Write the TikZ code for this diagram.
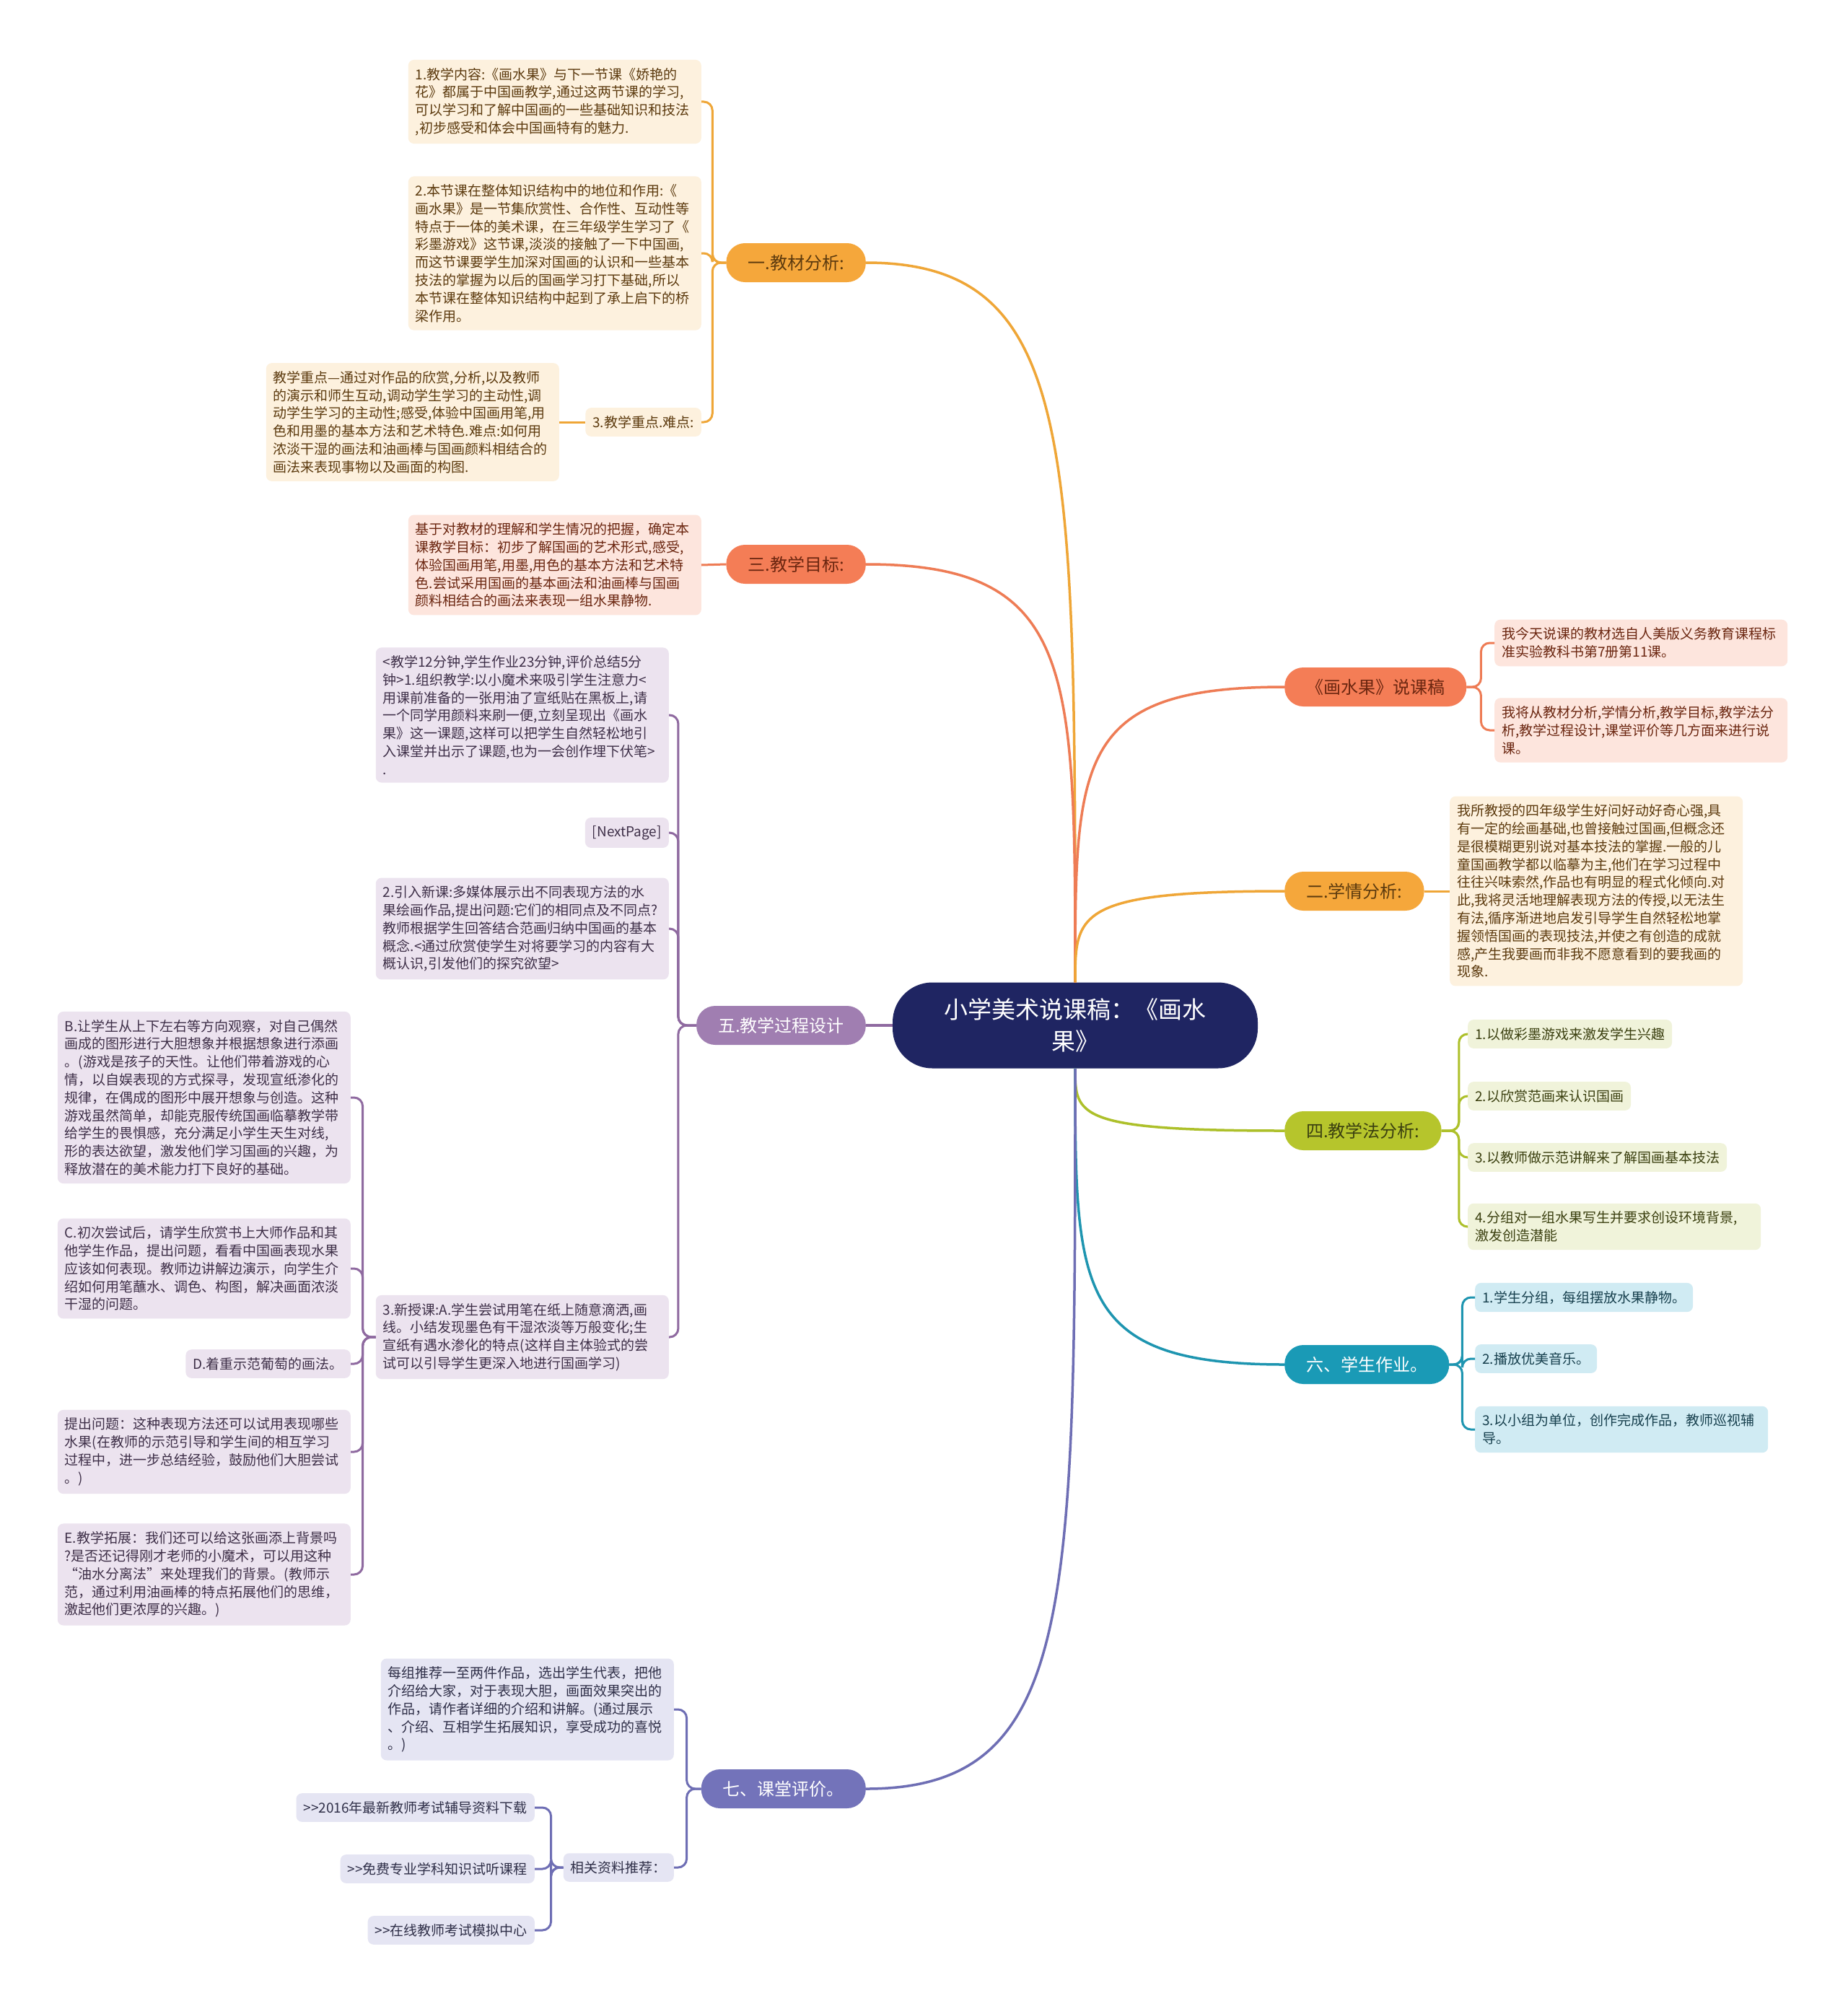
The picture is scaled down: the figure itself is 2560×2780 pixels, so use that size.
\documentclass[tikz,border=0pt]{standalone}
\usepackage{fontspec}
\setmainfont{Noto Sans CJK SC}
\usepackage{tikz}
\usetikzlibrary{calc}

\definecolor{navy}{HTML}{1F2562}
\definecolor{amber}{HTML}{F5A73B}
\definecolor{amberL}{HTML}{FDF1DE}
\definecolor{amberT}{HTML}{5C3A0E}
\definecolor{amberD}{HTML}{EFA637}
\definecolor{coral}{HTML}{F47D56}
\definecolor{coralL}{HTML}{FDE5DD}
\definecolor{coralT}{HTML}{6B2610}
\definecolor{coralD}{HTML}{EE7C55}
\definecolor{lilac}{HTML}{A07EB1}
\definecolor{lilacL}{HTML}{ECE3EF}
\definecolor{lilacT}{HTML}{3E2F48}
\definecolor{lilacD}{HTML}{8F6AA0}
\definecolor{slate}{HTML}{7373BA}
\definecolor{slateL}{HTML}{E5E5F3}
\definecolor{slateT}{HTML}{2F2F48}
\definecolor{slateD}{HTML}{6E6EB4}
\definecolor{olive}{HTML}{B6C52C}
\definecolor{oliveL}{HTML}{F0F3DA}
\definecolor{oliveT}{HTML}{3B4010}
\definecolor{oliveD}{HTML}{ADC02A}
\definecolor{teal}{HTML}{1A9AB6}
\definecolor{tealL}{HTML}{D0EBF3}
\definecolor{tealT}{HTML}{17404E}
\definecolor{tealD}{HTML}{1E95B0}

\begin{document}
\begin{tikzpicture}[x=1pt, y=-1pt,
  root/.style={rounded corners=55pt, fill=navy, text=white, font=\fontsize{33}{44}\selectfont,
    align=center, text width=420pt, minimum width=506pt, minimum height=119pt},
  branch/.style={rounded corners=26pt, minimum height=54pt, inner xsep=30pt, font=\fontsize{24}{28}\selectfont},
  leaf/.style={rounded corners=8pt, inner xsep=10pt, inner ysep=11pt, font=\fontsize{19}{24.8}\selectfont, align=left},
  wide/.style={text width=386pt},
  main/.style={line width=3.5pt},
  edge/.style={line width=3pt, rounded corners=12pt}]
\useasboundingbox (0,0) rectangle (2560,2780);
\fill[white] (0,0) rectangle (2560,2780);

\node[root] (root) at (1490,1421) {小学美术说课稿：《画水\\果》};

% branches
\node[branch, fill=amber, text=amberT, anchor=east] (b1) at (1200,364) {一.教材分析:};
\node[branch, fill=coral, text=coralT, anchor=east] (b3) at (1200,782) {三.教学目标:};
\node[branch, fill=lilac, text=white, anchor=east] (b5) at (1200,1421) {五.教学过程设计};
\node[branch, fill=slate, text=white, anchor=east] (b7) at (1200,2479) {七、课堂评价。};
\node[branch, fill=coral, text=coralT, anchor=west] (b0) at (1780,952) {《画水果》说课稿};
\node[branch, fill=amber, text=amberT, anchor=west] (b2) at (1780,1235) {二.学情分析:};
\node[branch, fill=olive, text=oliveT, anchor=west] (b4) at (1780,1567) {四.教学法分析:};
\node[branch, fill=teal, text=white, anchor=west] (b6) at (1780,1891) {六、学生作业。};

% 一
\node[leaf, wide, fill=amberL, text=amberT, anchor=east] (a1) at (972,141) {1.教学内容:《画水果》与下一节课《娇艳的\\花》都属于中国画教学,通过这两节课的学习,\\可以学习和了解中国画的一些基础知识和技法\\,初步感受和体会中国画特有的魅力.};
\node[leaf, wide, fill=amberL, text=amberT, anchor=east] (a2) at (972,351) {2.本节课在整体知识结构中的地位和作用:《\\画水果》是一节集欣赏性、合作性、互动性等\\特点于一体的美术课，在三年级学生学习了《\\彩墨游戏》这节课,淡淡的接触了一下中国画,\\而这节课要学生加深对国画的认识和一些基本\\技法的掌握为以后的国画学习打下基础,所以\\本节课在整体知识结构中起到了承上启下的桥\\梁作用。};
\node[leaf, fill=amberL, text=amberT, anchor=east] (a3) at (972,585) {3.教学重点.难点:};
\node[leaf, wide, fill=amberL, text=amberT, anchor=east] (a3a) at (775,585) {教学重点—通过对作品的欣赏,分析,以及教师\\的演示和师生互动,调动学生学习的主动性,调\\动学生学习的主动性;感受,体验中国画用笔,用\\色和用墨的基本方法和艺术特色.难点:如何用\\浓淡干湿的画法和油画棒与国画颜料相结合的\\画法来表现事物以及画面的构图.};

% 三
\node[leaf, wide, fill=coralL, text=coralT, anchor=east] (c1) at (972,783) {基于对教材的理解和学生情况的把握，确定本\\课教学目标：初步了解国画的艺术形式,感受,\\体验国画用笔,用墨,用色的基本方法和艺术特\\色.尝试采用国画的基本画法和油画棒与国画\\颜料相结合的画法来表现一组水果静物.};

% 五
\node[leaf, wide, fill=lilacL, text=lilacT, anchor=east] (p1) at (927,991) {<教学12分钟,学生作业23分钟,评价总结5分\\钟>1.组织教学:以小魔术来吸引学生注意力<\\用课前准备的一张用油了宣纸贴在黑板上,请\\一个同学用颜料来刷一便,立刻呈现出《画水\\果》这一课题,这样可以把学生自然轻松地引\\入课堂并出示了课题,也为一会创作埋下伏笔>\\.};
\node[leaf, fill=lilacL, text=lilacT, anchor=east] (p2) at (927,1154) {[NextPage]};
\node[leaf, wide, fill=lilacL, text=lilacT, anchor=east] (p3) at (927,1287) {2.引入新课:多媒体展示出不同表现方法的水\\果绘画作品,提出问题:它们的相同点及不同点?\\教师根据学生回答结合范画归纳中国画的基本\\概念.<通过欣赏使学生对将要学习的内容有大\\概认识,引发他们的探究欲望>};
\node[leaf, wide, fill=lilacL, text=lilacT, anchor=east] (p4) at (927,1853) {3.新授课:A.学生尝试用笔在纸上随意滴洒,画\\线。小结发现墨色有干湿浓淡等万般变化;生\\宣纸有遇水渗化的特点(这样自主体验式的尝\\试可以引导学生更深入地进行国画学习)};
\node[leaf, wide, fill=lilacL, text=lilacT, anchor=east] (q1) at (486,1521) {B.让学生从上下左右等方向观察，对自己偶然\\画成的图形进行大胆想象并根据想象进行添画\\。(游戏是孩子的天性。让他们带着游戏的心\\情，以自娱表现的方式探寻，发现宣纸渗化的\\规律，在偶成的图形中展开想象与创造。这种\\游戏虽然简单，却能克服传统国画临摹教学带\\给学生的畏惧感，充分满足小学生天生对线,\\形的表达欲望，激发他们学习国画的兴趣，为\\释放潜在的美术能力打下良好的基础。};
\node[leaf, wide, fill=lilacL, text=lilacT, anchor=east] (q2) at (486,1758) {C.初次尝试后，请学生欣赏书上大师作品和其\\他学生作品，提出问题，看看中国画表现水果\\应该如何表现。教师边讲解边演示，向学生介\\绍如何用笔蘸水、调色、构图，解决画面浓淡\\干湿的问题。};
\node[leaf, fill=lilacL, text=lilacT, anchor=east] (q3) at (486,1890) {D.着重示范葡萄的画法。};
\node[leaf, wide, fill=lilacL, text=lilacT, anchor=east] (q4) at (486,2012) {提出问题：这种表现方法还可以试用表现哪些\\水果(在教师的示范引导和学生间的相互学习\\过程中，进一步总结经验，鼓励他们大胆尝试\\。)};
\node[leaf, wide, fill=lilacL, text=lilacT, anchor=east] (q5) at (486,2182) {E.教学拓展：我们还可以给这张画添上背景吗\\?是否还记得刚才老师的小魔术，可以用这种\\“油水分离法”来处理我们的背景。(教师示\\范，通过利用油画棒的特点拓展他们的思维，\\激起他们更浓厚的兴趣。)};

% 七
\node[leaf, wide, fill=slateL, text=slateT, anchor=east] (s1) at (934,2369) {每组推荐一至两件作品，选出学生代表，把他\\介绍给大家，对于表现大胆，画面效果突出的\\作品，请作者详细的介绍和讲解。(通过展示\\、介绍、互相学生拓展知识，享受成功的喜悦\\。)};
\node[leaf, fill=slateL, text=slateT, anchor=east] (s2) at (934,2588) {相关资料推荐：};
\node[leaf, fill=slateL, text=slateT, anchor=east] (r1) at (741,2505) {{>}{>}2016年最新教师考试辅导资料下载};
\node[leaf, fill=slateL, text=slateT, anchor=east] (r2) at (741,2590) {{>}{>}免费专业学科知识试听课程};
\node[leaf, fill=slateL, text=slateT, anchor=east] (r3) at (741,2675) {{>}{>}在线教师考试模拟中心};

% right side
\node[leaf, wide, fill=coralL, text=coralT, anchor=west] (d1) at (2071,891) {我今天说课的教材选自人美版义务教育课程标\\准实验教科书第7册第11课。};
\node[leaf, wide, fill=coralL, text=coralT, anchor=west] (d2) at (2071,1012) {我将从教材分析,学情分析,教学目标,教学法分\\析,教学过程设计,课堂评价等几方面来进行说\\课。};
\node[leaf, wide, fill=amberL, text=amberT, anchor=west] (e1) at (2009,1235) {我所教授的四年级学生好问好动好奇心强,具\\有一定的绘画基础,也曾接触过国画,但概念还\\是很模糊更别说对基本技法的掌握.一般的儿\\童国画教学都以临摹为主,他们在学习过程中\\往往兴味索然,作品也有明显的程式化倾向.对\\此,我将灵活地理解表现方法的传授,以无法生\\有法,循序渐进地启发引导学生自然轻松地掌\\握领悟国画的表现技法,并使之有创造的成就\\感,产生我要画而非我不愿意看到的要我画的\\现象.};
\node[leaf, fill=oliveL, text=oliveT, anchor=west] (g1) at (2034,1433) {1.以做彩墨游戏来激发学生兴趣};
\node[leaf, fill=oliveL, text=oliveT, anchor=west] (g2) at (2034,1519) {2.以欣赏范画来认识国画};
\node[leaf, fill=oliveL, text=oliveT, anchor=west] (g3) at (2034,1604) {3.以教师做示范讲解来了解国画基本技法};
\node[leaf, wide, fill=oliveL, text=oliveT, anchor=west] (g4) at (2034,1700) {4.分组对一组水果写生并要求创设环境背景,\\激发创造潜能};
\node[leaf, fill=tealL, text=tealT, anchor=west] (t1) at (2044,1798) {1.学生分组，每组摆放水果静物。};
\node[leaf, fill=tealL, text=tealT, anchor=west] (t2) at (2044,1883) {2.播放优美音乐。};
\node[leaf, wide, fill=tealL, text=tealT, anchor=west] (t3) at (2044,1981) {3.以小组为单位，创作完成作品，教师巡视辅\\导。};

% root to branches
\foreach \b/\col in {b1/amberD, b3/coralD}
  \draw[main, \col] (root.north) .. controls ($(root.north)!.75!(root.north|-\b.east)$) and (root.north|-\b.east) .. (\b.east);
\foreach \b/\col in {b0/coralD, b2/amberD}
  \draw[main, \col] (root.north) .. controls ($(root.north)!.75!(root.north|-\b.west)$) and (root.north|-\b.west) .. (\b.west);
\foreach \b/\col in {b4/oliveD, b6/tealD}
  \draw[main, \col] (root.south) .. controls ($(root.south)!.75!(root.south|-\b.west)$) and (root.south|-\b.west) .. (\b.west);
\draw[main, slateD] (root.south) .. controls ($(root.south)!.75!(root.south|-b7.east)$) and (root.south|-b7.east) .. (b7.east);
\draw[main, lilacD] (root.west) -- (b5.east);

% branches to leaves
\foreach \c in {a1,a2,a3}
  \draw[edge, amberD] (b1.west) -- ++(-19,0) |- (\c.east);
\draw[edge, amberD] (a3.west) -- (a3a.east);
\draw[edge, coralD] (b3.west) -- (c1.east);
\foreach \c in {p1,p2,p3,p4}
  \draw[edge, lilacD] (b5.west) -- ++(-25,0) |- (\c.east);
\foreach \c in {q1,q2,q3,q4,q5}
  \draw[edge, lilacD] (p4.west) -- ++(-18,0) |- (\c.east);
\foreach \c in {s1,s2}
  \draw[edge, slateD] (b7.west) -- ++(-20,0) |- (\c.east);
\foreach \c in {r1,r2,r3}
  \draw[edge, slateD] (s2.west) -- ++(-17,0) |- (\c.east);
\foreach \c in {d1,d2}
  \draw[edge, coralD] (b0.east) -- ++(20,0) |- (\c.west);
\draw[edge, amberD] (b2.east) -- (e1.west);
\foreach \c in {g1,g2,g3,g4}
  \draw[edge, oliveD] (b4.east) -- ++(24,0) |- (\c.west);
\foreach \c in {t1,t2,t3}
  \draw[edge, tealD] (b6.east) -- ++(18,0) |- (\c.west);
\end{tikzpicture}
\end{document}
